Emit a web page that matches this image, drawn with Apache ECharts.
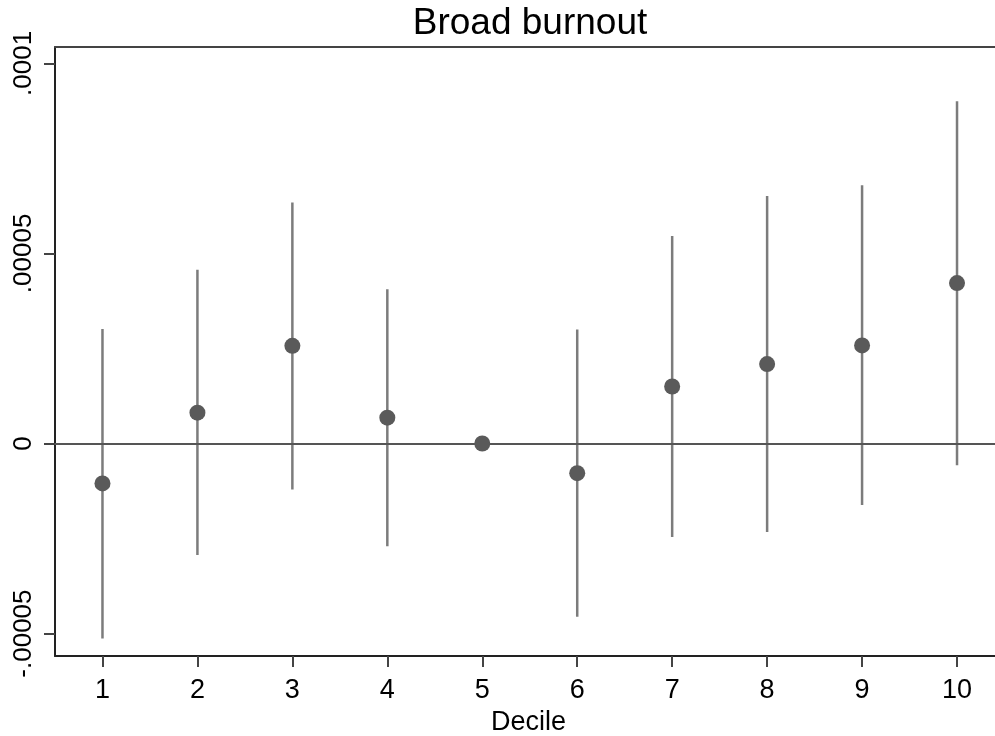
<!DOCTYPE html>
<html>
<head>
<meta charset="utf-8">
<title>Broad burnout</title>
<script src="https://cdn.jsdelivr.net/npm/echarts@6/dist/echarts.min.js"></script>
<style>
    html, body { margin: 0; padding: 0; background: #fff; }
    #main { width: 995px; height: 736px; }
</style>
</head>
<body>
<div id="main"></div>
<script>
    //---数据定义区----------------------------------
    var deciles = [1, 2, 3, 4, 5, 6, 7, 8, 9, 10];
    // point estimates (x 1e-5)
    var coef = [-1.05, 0.81, 2.57, 0.68, 0, -0.78, 1.50, 2.09, 2.58, 4.22];
    // 95% CI bounds (x 1e-5), decile 5 is the base category
    var ciLow = [-5.13, -2.93, -1.21, -2.70, null, -4.56, -2.46, -2.33, -1.62, -0.57];
    var ciHigh = [3.01, 4.57, 6.34, 4.06, null, 3.00, 5.46, 6.51, 6.79, 9.00];
    var yTicks = [-0.00005, 0, 0.00005, 0.0001];
    var yTickLabels = ['-.00005', '0', '.00005', '.0001'];
    var scale = 1e-5;
    //----------------------------------------------

    var FONT = 'Liberation Sans, Arial, sans-serif';

    var _this = {
        pointData: function () {
            return deciles.map(function (d, i) { return [d, coef[i] * scale]; });
        },
        ciData: function () {
            var out = [];
            deciles.forEach(function (d, i) {
                if (ciLow[i] !== null) {
                    out.push([d, ciLow[i] * scale, ciHigh[i] * scale]);
                }
            });
            return out;
        },
        labelFor: function (v) {
            for (var i = 0; i < yTicks.length; i++) {
                if (Math.abs(yTicks[i] - v) < 1e-12) return yTickLabels[i];
            }
            return '';
        }
    };

    var chart = echarts.init(document.getElementById('main'), null, { renderer: 'canvas' });

    chart.setOption({
        animation: false,
        backgroundColor: '#fff',
        title: {
            text: 'Broad burnout',
            left: 525,
            top: 0,
            textAlign: 'center',
            textStyle: { fontFamily: FONT, fontSize: 37, fontWeight: 'normal', color: '#000' }
        },
        grid: { left: 55, right: 0, top: 47, bottom: 80, containLabel: false, outerBoundsMode: 'none' },
        xAxis: [{
            type: 'value',
            min: 0.5,
            max: 10.4,
            position: 'bottom',
            name: 'Decile',
            nameLocation: 'middle',
            nameGap: 43,
            nameTextStyle: { fontFamily: FONT, fontSize: 27, color: '#000', padding: [0, 0, 0, 7] },
            splitLine: { show: false },
            axisLine: { show: true, onZero: false, lineStyle: { color: '#222', width: 2 } },
            axisTick: { show: true, length: 11, lineStyle: { color: '#444', width: 2 }, customValues: deciles },
            axisLabel: {
                fontFamily: FONT, fontSize: 27, color: '#000', margin: 21,
                customValues: deciles,
                formatter: function (v) { return String(v); }
            }
        }, {
            type: 'value',
            min: 0.5,
            max: 10.4,
            position: 'top',
            splitLine: { show: false },
            axisLine: { show: true, onZero: false, lineStyle: { color: '#444', width: 2 } },
            axisTick: { show: false },
            axisLabel: { show: false }
        }],
        yAxis: {
            type: 'value',
            min: -0.0000559,
            max: 0.0001043,
            splitLine: { show: false },
            axisLine: { show: true, onZero: false, lineStyle: { color: '#222', width: 2 } },
            axisTick: { show: true, length: 11, lineStyle: { color: '#444', width: 2 }, customValues: yTicks },
            axisLabel: {
                fontFamily: FONT, fontSize: 26, color: '#000', margin: 18, rotate: 90,
                customValues: yTicks,
                formatter: function (v) { return _this.labelFor(v); }
            }
        },
        series: [{
            type: 'line',
            data: [],
            markLine: {
                silent: true,
                symbol: 'none',
                label: { show: false },
                lineStyle: { color: '#555', width: 2.2, type: 'solid' },
                data: [{ yAxis: 0 }]
            }
        }, {
            type: 'custom',
            data: _this.ciData(),
            encode: { x: 0, y: [1, 2] },
            renderItem: function (params, api) {
                var lo = api.coord([api.value(0), api.value(1)]);
                var hi = api.coord([api.value(0), api.value(2)]);
                return {
                    type: 'line',
                    shape: { x1: lo[0], y1: lo[1], x2: hi[0], y2: hi[1] },
                    style: { stroke: '#7c7c7c', lineWidth: 2.5 }
                };
            },
            z: 3
        }, {
            type: 'scatter',
            data: _this.pointData(),
            symbol: 'circle',
            symbolSize: 16,
            itemStyle: { color: '#5a5a5a', opacity: 1 },
            z: 5
        }]
    });
</script>
</body>
</html>
